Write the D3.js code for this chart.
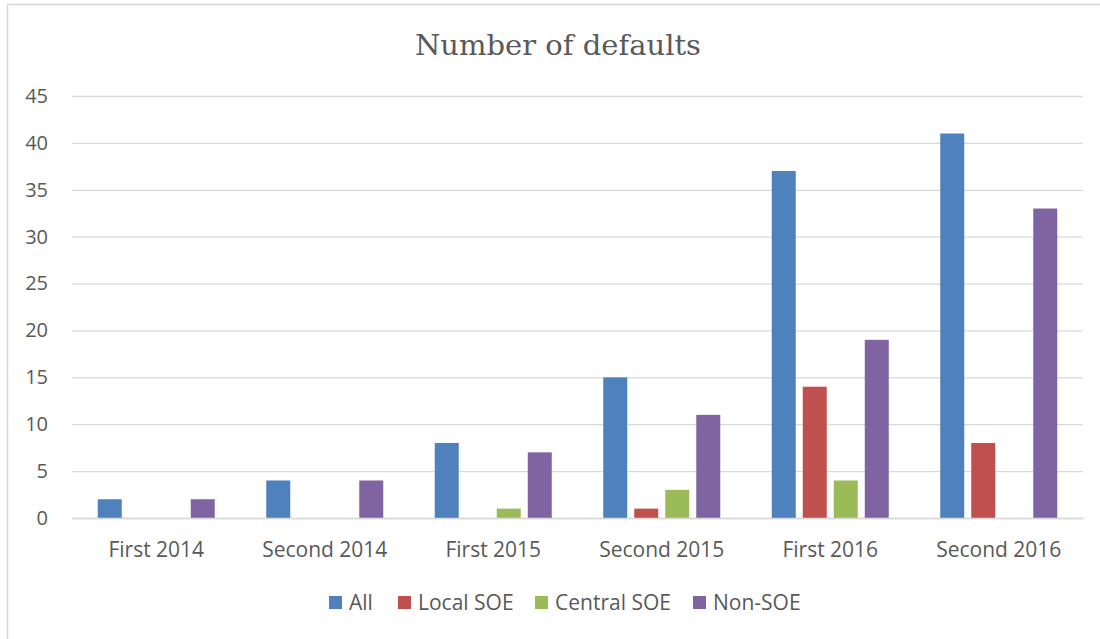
<!DOCTYPE html>
<html>
<head>
<meta charset="utf-8">
<script src="https://cdn.jsdelivr.net/npm/d3@7"></script>
<style>
  body { margin: 0; background: #fff; }
  svg { display: block; }
</style>
</head>
<body>
<div id="chart"></div>
<script>
const categories = ["First 2014", "Second 2014", "First 2015", "Second 2015", "First 2016", "Second 2016"];
const seriesNames = ["All", "Local SOE", "Central SOE", "Non-SOE"];
const allValues = [2, 4, 8, 15, 37, 41];
const localSoe = [0, 0, 0, 1, 14, 8];
const centralSoe = [0, 0, 1, 3, 4, 0];
const nonSoe = [2, 4, 7, 11, 19, 33];
const yTicks = [0, 5, 10, 15, 20, 25, 30, 35, 40, 45];
const colors = ["#4f81bd", "#c0504d", "#9bbb59", "#8064a2"];

const seriesValues = [allValues, localSoe, centralSoe, nonSoe];
const rows = categories.map((c, i) => ({
  cat: c,
  vals: seriesNames.map((s, j) => ({ key: s, value: seriesValues[j][i] }))
}));

const W = 1100, H = 639;
const margin = { left: 72, right: 17, top: 96, bottom: 121 };

const svg = d3.select("#chart").append("svg")
  .attr("width", W)
  .attr("height", H);

// chart frame (right and bottom edges fall outside the crop)
svg.append("rect")
  .attr("x", 7.5).attr("y", 4.5)
  .attr("width", W + 10).attr("height", H + 10)
  .attr("fill", "#fff")
  .attr("stroke", "#d9d9d9")
  .attr("stroke-width", 1.5);

let x0 = d3.scaleBand()
  .domain(categories)
  .range([margin.left, W - margin.right])
  .paddingInner(0).paddingOuter(0);

let x1 = d3.scaleBand()
  .domain(seriesNames)
  .range([0, x0.bandwidth()])
  .paddingInner(0.226).paddingOuter(0.83);

let y = d3.scaleLinear()
  .domain([0, 45])
  .range([H - margin.bottom, margin.top]);

// gridlines
svg.append("g")
  .attr("transform", "translate(" + margin.left + ",0)")
  .call(d3.axisLeft(y).tickValues(yTicks).tickSize(-(W - margin.left - margin.right)).tickFormat(""))
  .call(g => g.select(".domain").remove())
  .selectAll("line")
  .attr("stroke", "#d9d9d9")
  .attr("stroke-width", 1.3);

// y tick labels
let yAxis = svg.append("g")
  .attr("transform", "translate(" + (margin.left - 24) + ",0)")
  .call(d3.axisLeft(y).tickValues(yTicks).tickSize(0).tickPadding(0));
yAxis.select(".domain").remove();
yAxis.selectAll("text")
  .attr("fill", "#595959")
  .style("font-family", "'Open Sans', sans-serif")
  .style("font-size", "20px");

// bars
svg.append("g")
  .selectAll("g")
  .data(rows)
  .enter()
  .append("g")
  .attr("transform", d => "translate(" + x0(d.cat) + ",0)")
  .selectAll("rect")
  .data(d => d.vals)
  .enter()
  .append("rect")
  .attr("x", d => x1(d.key))
  .attr("y", d => y(d.value))
  .attr("width", x1.bandwidth())
  .attr("height", d => y(0) - y(d.value))
  .attr("fill", (d, i) => colors[i]);

// x axis
let xAxis = svg.append("g")
  .attr("transform", "translate(0," + y(0) + ")")
  .call(d3.axisBottom(x0).tickSize(0).tickPadding(24));
xAxis.select(".domain")
  .attr("stroke", "#d9d9d9")
  .attr("stroke-width", 1.3);
xAxis.selectAll("text")
  .attr("fill", "#595959")
  .style("font-family", "'Open Sans', sans-serif")
  .style("font-size", "21px");

// title
svg.append("text")
  .attr("x", 558)
  .attr("y", 55)
  .attr("text-anchor", "middle")
  .attr("fill", "#595959")
  .style("font-family", "'DejaVu Serif', serif")
  .style("font-size", "28px")
  .attr("textLength", 286)
  .attr("lengthAdjust", "spacingAndGlyphs")
  .text("Number of defaults");

// legend
const legendX = [329, 398, 535, 693];
let legend = svg.append("g")
  .selectAll("g")
  .data(seriesNames)
  .enter()
  .append("g")
  .attr("transform", (d, i) => "translate(" + legendX[i] + ",596)");

legend.append("rect")
  .attr("width", 13).attr("height", 13)
  .attr("fill", (d, i) => colors[i]);

legend.append("text")
  .attr("x", 20)
  .attr("y", 14)
  .attr("fill", "#595959")
  .style("font-family", "'Open Sans', sans-serif")
  .style("font-size", "21px")
  .text(d => d);
</script>
</body>
</html>
